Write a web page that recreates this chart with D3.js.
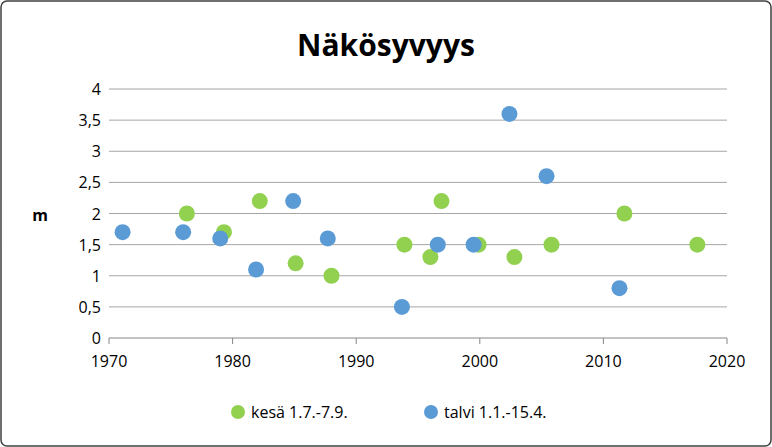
<!DOCTYPE html>
<html><head><meta charset="utf-8">
<script src="https://cdn.jsdelivr.net/npm/d3@7"></script>
<style>body{margin:0;background:#fff}svg{font-family:"Open Sans","Liberation Sans",sans-serif}</style>
</head><body><svg id="c" width="772" height="447"></svg>
<script>
const title = "Näkösyvyys";
const kesaYears = [1976.3,1979.3,1982.2,1985.1,1988.0,1993.9,1996.0,1996.9,1999.9,2002.8,2005.8,2011.7,2017.6];
const kesaValues = [2.0,1.7,2.2,1.2,1.0,1.5,1.3,2.2,1.5,1.3,1.5,2.0,1.5];
const talviYears = [1971.1,1976.0,1979.0,1981.9,1984.9,1987.7,1993.7,1996.6,1999.5,2002.4,2005.4,2011.3];
const talviValues = [1.7,1.7,1.6,1.1,2.2,1.6,0.5,1.5,1.5,3.6,2.6,0.8];
const xTicks = [1970,1980,1990,2000,2010,2020];
const yTicks = [0,0.5,1,1.5,2,2.5,3,3.5,4];
const seriesNames = ["kesä 1.7.-7.9.","talvi 1.1.-15.4."];
const colors = ["#92d050","#5b9bd5"];

const svg = d3.select("#c");
svg.append("rect").attr("x",1).attr("y",1).attr("width",770).attr("height",445).attr("rx",6)
  .attr("fill","#fff").attr("stroke","#404040").attr("stroke-width",1.5);
const x = d3.scaleLinear().domain([1970,2020]).range([109,727]);
const y = d3.scaleLinear().domain([0,4]).range([338,89]);
const fmt = d => String(d).replace(".",",");
svg.append("g").selectAll("line").data(yTicks).join("line")
  .attr("x1",x(1970)).attr("x2",x(2020)).attr("y1",d=>y(d)).attr("y2",d=>y(d))
  .attr("stroke",d=>d===0?"#868686":"#a6a6a6").attr("stroke-width",1);
svg.append("g").selectAll("text").data(yTicks).join("text")
  .attr("x",x(1970)-8).attr("y",d=>y(d)+6).attr("text-anchor","end")
  .attr("font-size",16).attr("fill","#000").text(fmt);
svg.append("g").selectAll("line").data(xTicks).join("line")
  .attr("x1",d=>x(d)).attr("x2",d=>x(d)).attr("y1",338).attr("y2",344).attr("stroke","#868686");
svg.append("g").selectAll("text").data(xTicks).join("text")
  .attr("x",d=>x(d)).attr("y",367).attr("text-anchor","middle")
  .attr("font-size",16).text(d=>d);
svg.append("text").attr("x",40).attr("y",221).attr("text-anchor","middle")
  .attr("font-size",16).attr("font-weight","bold").text("m");
svg.append("text").attr("x",386).attr("y",56).attr("text-anchor","middle")
  .attr("font-size",30).attr("font-weight","bold").text(title);
const sets = [[kesaYears,kesaValues],[talviYears,talviValues]];
sets.forEach(([xs,vs],i)=>{
  svg.append("g").selectAll("circle").data(xs.map((v,j)=>[v,vs[j]])).join("circle")
    .attr("cx",d=>x(d[0])).attr("cy",d=>y(d[1])).attr("r",8).attr("fill",colors[i]);
});
const lg = [[238,seriesNames[0]],[431,seriesNames[1]]];
lg.forEach(([lx,t],i)=>{
  svg.append("circle").attr("cx",lx).attr("cy",412).attr("r",7).attr("fill",colors[i]);
  svg.append("text").attr("x",lx+13).attr("y",418).attr("font-size",16).text(t);
});
</script></body></html>
